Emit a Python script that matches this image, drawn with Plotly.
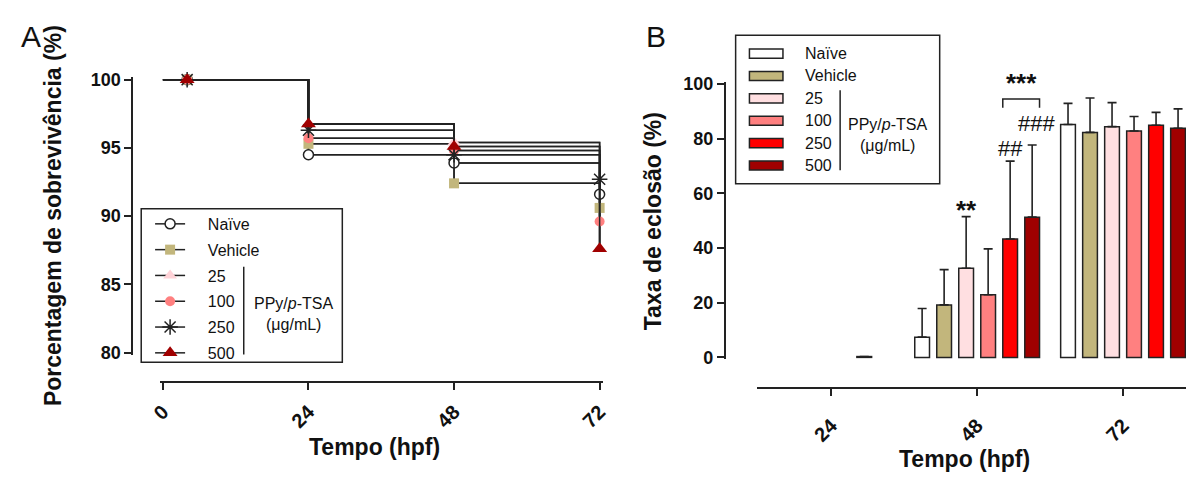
import plotly.graph_objects as go

W, H = 1194, 477
PAGE_OFFSET = 8                      # margem padrão do <body> na página gerada
FONT = "Liberation Sans, Arial, sans-serif"
INK = "#222222"
PAD = "\u00a0" * 4                   # espaço extra entre símbolo e texto da legenda

GROUPS = ["Naïve", "Vehicle", "25", "100", "250", "500"]
FILL = ["#ffffff", "#c2b67c", "#ffdfe1", "#ff8080", "#ff0000", "#a00000"]

# --- A: porcentagem de sobrevivência (Kaplan-Meier) --------------------
surv_hours = [0, 24, 48, 72]
marker_hours = [4, 24, 48, 72]          # o 1º símbolo aparece um pouco depois do 0
surv_naive = [100, 94.5, 93.9, 91.6]
surv_vehicle = [100, 95.3, 92.4, 90.6]
surv_25 = [100, 96.75, 95.4, 87.6]
surv_100 = [100, 95.7, 94.8, 89.6]
surv_250 = [100, 96.3, 94.5, 92.7]
surv_500 = [100, 96.75, 95.1, 87.6]
surv = [surv_naive, surv_vehicle, surv_25, surv_100, surv_250, surv_500]

# --- B: taxa de eclosão (%) --------------------------------------------
# None = nenhuma eclosão em 24 hpf (barra não aparece)
hatch_hours = [24, 48, 72]
hatch_naive = [None, 7.4, 85.2]
hatch_vehicle = [None, 19.2, 82.3]
hatch_25 = [None, 32.6, 84.4]
hatch_100 = [None, 22.9, 82.8]
hatch_250 = [0.3, 43.3, 84.9]
hatch_500 = [None, 51.3, 83.8]
sd_naive = [None, 10.5, 7.7]
sd_vehicle = [None, 12.9, 12.6]
sd_25 = [None, 18.9, 8.8]
sd_100 = [None, 16.8, 5.3]
sd_250 = [0, 28.5, 4.7]
sd_500 = [None, 26.4, 7.1]
hatch = [hatch_naive, hatch_vehicle, hatch_25, hatch_100, hatch_250, hatch_500]
hatch_sd = [sd_naive, sd_vehicle, sd_25, sd_100, sd_250, sd_500]

BARGAP, BARGROUPGAP = 0.095, 0.33


def fx(x):
    return (x - PAGE_OFFSET) / W


def fy(y):
    return 1 - (y - PAGE_OFFSET) / H


def bar_center(hour, i):
    slot = 24 * (1 - BARGAP) / len(GROUPS)
    return hour + (i - (len(GROUPS) - 1) / 2) * slot


def bar_half():
    return 24 * (1 - BARGAP) / len(GROUPS) * (1 - BARGROUPGAP) / 2


MARKERS = [
    dict(symbol="circle", size=10, color="#ffffff", line=dict(color=INK, width=1.5)),
    dict(symbol="square", size=10, color=FILL[1]),
    dict(symbol="triangle-up", size=12, color="#ffd3d8"),
    dict(symbol="circle", size=10, color=FILL[3]),
    dict(symbol="asterisk-open", size=13, line=dict(color=INK, width=1.5)),
    dict(symbol="triangle-up", size=13, color=FILL[5]),
]

fig = go.Figure()

# degraus primeiro, símbolos por cima
for vals in surv:
    fig.add_trace(go.Scatter(
        x=surv_hours, y=vals, mode="lines", showlegend=False, hoverinfo="skip",
        line=dict(color=INK, width=1.5, shape="hv"), xaxis="x", yaxis="y"))
for g, vals, mk in zip(GROUPS, surv, MARKERS):
    fig.add_trace(go.Scatter(
        x=marker_hours, y=vals, mode="lines+markers", name=PAD + g, legendgroup="a" + g,
        line=dict(color=INK, width=1.5, shape="hv"), marker=mk, cliponaxis=False,
        legend="legend", xaxis="x", yaxis="y"))

for i, (g, vals, sd) in enumerate(zip(GROUPS, hatch, hatch_sd)):
    fig.add_trace(go.Bar(
        x=hatch_hours, y=vals, name=g, showlegend=False,
        marker=dict(color=FILL[i], line=dict(color=INK, width=1.5)),
        error_y=dict(type="data", array=sd, arrayminus=[0] * len(sd), symmetric=False,
                     color=INK, thickness=1.6, width=4.5),
        xaxis="x2", yaxis="y2"))

axis = dict(showline=True, linecolor=INK, linewidth=1.8, ticks="outside", ticklen=7,
            tickwidth=1.8, tickcolor=INK, showgrid=False, zeroline=False,
            tickfont=dict(family=FONT, size=18, color="#111", weight="bold"))
xtick = dict(axis, tickangle=-45, tickfont=dict(family=FONT, size=20, color="#111", weight="bold"))
legend_font = dict(family=FONT, size=16, color="#111")

fig.update_layout(
    width=W, height=H, margin=dict(l=0, r=0, t=0, b=0),
    paper_bgcolor="white", plot_bgcolor="white",
    barmode="group", bargap=BARGAP, bargroupgap=BARGROUPGAP,
    xaxis=dict(xtick, domain=[fx(151.9), fx(601.1)], range=[-0.5, 72.5],
               tickvals=surv_hours, anchor="free", position=fy(388), ticklabelstandoff=2),
    yaxis=dict(axis, domain=[fy(359.8), fy(71.2)], range=[79.8, 100.2],
               tickvals=[80, 85, 90, 95, 100], anchor="free", position=fx(124)),
    xaxis2=dict(xtick, domain=[fx(758), fx(1194)], range=[11.84, 82.54],
                tickvals=hatch_hours, anchor="free", position=fy(394), ticklabelstandoff=10),
    yaxis2=dict(axis, domain=[fy(363.7), fy(76.8)], range=[-0.6, 100.6],
                tickvals=[0, 20, 40, 60, 80, 100], anchor="free", position=fx(725)),
    legend=dict(x=fx(142), y=fy(206), xanchor="left", yanchor="top",
                bgcolor="rgba(0,0,0,0)", borderwidth=0, traceorder="grouped",
                tracegroupgap=2, font=legend_font),
)

title_font = dict(family=FONT, size=23, color="#111", weight="bold")
ann = [
    dict(text="A", x=fx(21), y=fy(29), font=dict(family=FONT, size=30, color="#111")),
    dict(text="B", x=fx(655), y=fy(29), font=dict(family=FONT, size=30, color="#111")),
    dict(text="Porcentagem de sobrevivência (%)", x=fx(43), y=fy(215), textangle=-90, font=title_font),
    dict(text="Tempo (hpf)", x=fx(370), y=fy(455), font=title_font),
    dict(text="Taxa de eclosão (%)", x=fx(653), y=fy(221), textangle=-90, font=title_font),
    dict(text="Tempo (hpf)", x=fx(968), y=fy(467), font=title_font),
    dict(text="PPy/<i>p</i>-TSA", x=fx(287), y=fy(306), font=legend_font),
    dict(text="(μg/mL)", x=fx(287), y=fy(328), font=legend_font),
    dict(text="PPy/<i>p</i>-TSA", x=fx(890), y=fy(120), font=legend_font),
    dict(text="(μg/mL)", x=fx(890), y=fy(142), font=legend_font),
]
for a in ann:
    a.update(xref="paper", yref="paper", showarrow=False, xanchor="center", yanchor="middle")
    fig.add_annotation(**a)

# legenda do painel B: retângulos achatados como no GraphPad
row0, row_step = 47, 23.2
for i, g in enumerate(GROUPS):
    yc = row0 + i * row_step
    fig.add_shape(type="rect", xref="paper", yref="paper", x0=fx(750), x1=fx(784),
                  y0=fy(yc + 4.7), y1=fy(yc - 4.7), fillcolor=FILL[i],
                  line=dict(color=INK, width=1.5))
    fig.add_annotation(text=g, x=fx(804), y=fy(yc), xref="paper", yref="paper",
                       showarrow=False, xanchor="left", yanchor="middle", font=legend_font)

# marcas de significância (painel B, 48 hpf): grupo, texto, negrito, deslocamentos
sig = [(2, "**", True, 0, -10), (4, "##", False, 0, -2), (5, "###", False, 4, 7)]
for i, txt, bold, dx, dy in sig:
    top = hatch[i][1] + hatch_sd[i][1]
    fig.add_annotation(
        x=bar_center(48, i), y=top, xref="x2", yref="y2", text=txt, showarrow=False,
        yanchor="bottom", xshift=dx, yshift=dy,
        font=dict(family=FONT, size=26 if bold else 22, color="#111",
                  weight="bold" if bold else "normal"))

bx0 = bar_center(48, 4) - bar_half()
bx1 = bar_center(48, 5) + bar_half()
bracket_y, bracket_tick = 94.5, 3.2
fig.add_shape(type="path", xref="x2", yref="y2",
              path=f"M{bx0},{bracket_y - bracket_tick} L{bx0},{bracket_y} L{bx1},{bracket_y} "
                   f"L{bx1},{bracket_y - bracket_tick}",
              line=dict(color=INK, width=1.5))
fig.add_annotation(x=(bx0 + bx1) / 2, y=bracket_y, xref="x2", yref="y2", text="***",
                   showarrow=False, yanchor="bottom", yshift=-1,
                   font=dict(family=FONT, size=26, color="#111", weight="bold"))

# caixas das legendas e colchete "PPy/p-TSA"
for x0, x1, y0, y1 in [(133, 337, 208, 367), (736, 943, 28, 182)]:
    fig.add_shape(type="rect", xref="paper", yref="paper", x0=fx(x0), x1=fx(x1),
                  y0=fy(y1), y1=fy(y0), line=dict(color=INK, width=1.5))
for x, y0, y1 in [(237, 268, 359), (842, 85, 168)]:
    fig.add_shape(type="line", xref="paper", yref="paper", x0=fx(x), x1=fx(x),
                  y0=fy(y1), y1=fy(y0), line=dict(color=INK, width=1.5))

fig.write_html("out.html")
